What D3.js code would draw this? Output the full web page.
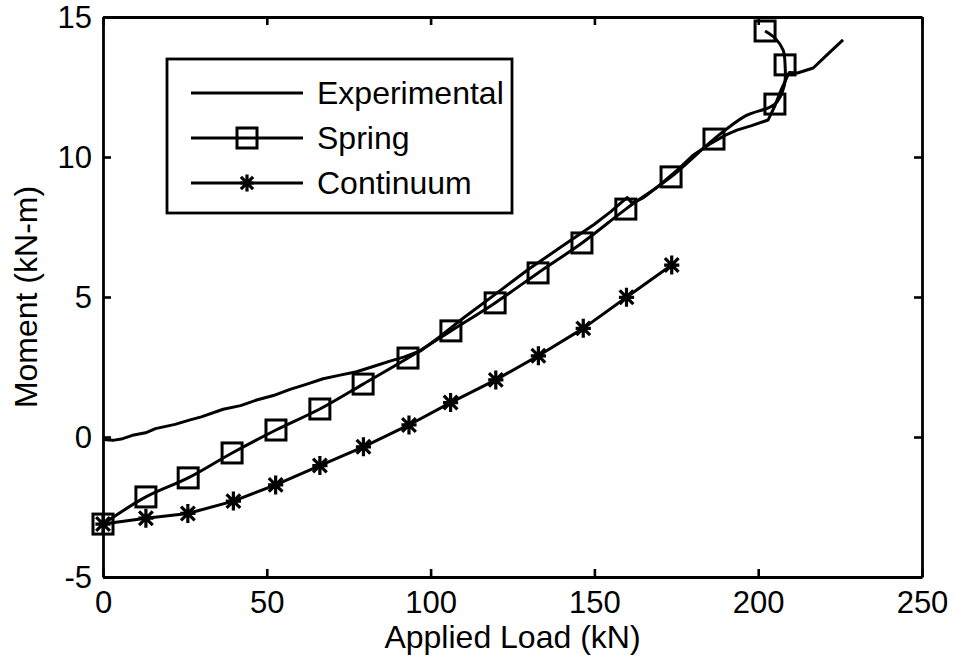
<!DOCTYPE html>
<html>
<head>
<meta charset="utf-8">
<script src="https://cdn.jsdelivr.net/npm/d3@7"></script>
<style>
  html, body { margin: 0; padding: 0; background: #fff; }
  svg { display: block; font-family: Arial, "Liberation Sans", sans-serif; }
</style>
</head>
<body>
<svg id="chart" width="956" height="664"></svg>
<script>
// ---- data ----
const xTicks = [0, 50, 100, 150, 200, 250];
const yTicks = [-5, 0, 5, 10, 15];
const xLabel = "Applied Load (kN)";
const yLabel = "Moment (kN-m)";
const seriesNames = ["Experimental", "Spring", "Continuum"];

const expLoad = [0, 1, 3, 6, 9, 13, 16, 22, 26.6, 30, 36.7, 42, 46.9, 52, 57.1, 62, 67.2, 72, 77.4, 82, 87.6, 92, 97, 103, 110, 120, 130, 140, 150, 155, 158, 160, 161.5, 165, 170, 175, 180, 185, 190, 193.5, 198, 203, 205, 207, 208.8, 209.5, 212, 216.8, 221, 225.9];
const expMoment = [-0.08, -0.1, -0.12, -0.06, 0.06, 0.15, 0.3, 0.45, 0.61, 0.72, 0.99, 1.12, 1.32, 1.48, 1.70, 1.88, 2.08, 2.2, 2.33, 2.5, 2.71, 2.86, 3.08, 3.6, 4.25, 5.12, 6.0, 6.8, 7.6, 8.05, 8.35, 8.55, 8.35, 8.55, 9.0, 9.5, 10.05, 10.45, 10.78, 10.96, 11.12, 11.32, 11.8, 12.4, 12.85, 13.02, 13.0, 13.18, 13.65, 14.18];

const springLoad = [0, 13.1, 26.0, 39.4, 52.8, 66.2, 79.4, 93.1, 106.2, 119.7, 132.8, 146.2, 159.6, 173.4, 186.5, 196.0, 205.1, 208.0, 208.2, 207.6, 205.1, 202.1];
const springMoment = [-3.11, -2.14, -1.46, -0.57, 0.25, 1.0, 1.89, 2.82, 3.79, 4.79, 5.86, 6.93, 8.14, 9.29, 10.64, 11.46, 11.89, 12.57, 13.29, 13.82, 14.25, 14.5];
const springMarkerIdx = [0, 1, 2, 3, 4, 5, 6, 7, 8, 9, 10, 11, 12, 13, 14, 16, 18, 21];

const contLoad = [0, 13.1, 25.9, 39.8, 52.7, 66.2, 79.5, 93.4, 106.1, 119.9, 132.9, 146.6, 159.8, 173.6];
const contMoment = [-3.11, -2.9, -2.73, -2.29, -1.71, -1.02, -0.35, 0.43, 1.23, 2.04, 2.9, 3.88, 4.99, 6.14];

// ---- layout ----
const svg = d3.select("#chart");
const L = 103, R = 922, T = 17, B = 577;
const x = d3.scaleLinear().domain([0, 250]).range([L, R]);
const y = d3.scaleLinear().domain([-5, 15]).range([B, T]);
const FS_TICK = 31;
const FS = 32;
const SW = 3;
const fmt = d => String(d);

// frame + ticks
function styleAxis(g) {
  g.selectAll("path.domain").attr("stroke", "#000").attr("stroke-width", 2.8);
  g.selectAll(".tick line").attr("stroke", "#000").attr("stroke-width", 2.6);
  g.selectAll(".tick text").attr("fill", "#000").style("font-size", FS_TICK + "px")
    .style("font-family", "Arial, 'Liberation Sans', sans-serif");
}
svg.append("g").attr("transform", `translate(0,${B})`)
  .call(d3.axisBottom(x).tickValues(xTicks).tickSize(-8).tickSizeOuter(0).tickPadding(14).tickFormat(fmt))
  .call(styleAxis);
svg.append("g").attr("transform", `translate(0,${T})`)
  .call(d3.axisTop(x).tickValues(xTicks).tickSize(-8).tickSizeOuter(0).tickFormat(""))
  .call(styleAxis);
svg.append("g").attr("transform", `translate(${L},0)`)
  .call(d3.axisLeft(y).tickValues(yTicks).tickSize(-8).tickSizeOuter(0).tickPadding(11).tickFormat(fmt))
  .call(styleAxis)
  .selectAll(".tick text").attr("dy", "0.35em");
svg.append("g").attr("transform", `translate(${R},0)`)
  .call(d3.axisRight(y).tickValues(yTicks).tickSize(-8).tickSizeOuter(0).tickFormat(""))
  .call(styleAxis);

// axis labels
svg.append("text").attr("x", (L + R) / 2).attr("y", 648).attr("text-anchor", "middle")
  .style("font-size", FS + "px").text(xLabel);
svg.append("text").attr("transform", `translate(37,${(T + B) / 2}) rotate(-90)`)
  .attr("text-anchor", "middle").style("font-size", FS + "px").text(yLabel);

// lines
const expData = expLoad.map((v, i) => [v, expMoment[i]]);
const springData = springLoad.map((v, i) => [v, springMoment[i]]);
const contData = contLoad.map((v, i) => [v, contMoment[i]]);

const plot = svg.append("g");
plot.append("path").datum(expData).attr("d", d3.line().x(d => x(d[0])).y(d => y(d[1])))
  .attr("fill", "none").attr("stroke", "#000").attr("stroke-width", SW).attr("stroke-linejoin", "round");
plot.append("path").datum(springData).attr("d", d3.line().x(d => x(d[0])).y(d => y(d[1])).curve(d3.curveCatmullRom))
  .attr("fill", "none").attr("stroke", "#000").attr("stroke-width", SW).attr("stroke-linejoin", "round");
plot.append("path").datum(contData).attr("d", d3.line().x(d => x(d[0])).y(d => y(d[1])))
  .attr("fill", "none").attr("stroke", "#000").attr("stroke-width", SW).attr("stroke-linejoin", "round");

// markers
const SQ = 20;
function square(g, cx, cy) {
  g.append("rect").attr("x", cx - SQ / 2).attr("y", cy - SQ / 2).attr("width", SQ).attr("height", SQ)
    .attr("fill", "none").attr("stroke", "#000").attr("stroke-width", SW);
}
function asterisk(g, cx, cy, r) {
  const d = r * 0.72;
  const p = `M${cx},${cy - r}L${cx},${cy + r}M${cx - r * 0.8},${cy}L${cx + r * 0.8},${cy}` +
            `M${cx - d},${cy - d}L${cx + d},${cy + d}M${cx - d},${cy + d}L${cx + d},${cy - d}`;
  g.append("path").attr("d", p).attr("fill", "none").attr("stroke", "#000").attr("stroke-width", 3.2);
}
springMarkerIdx.forEach(i => square(plot, x(springLoad[i]), y(springMoment[i])));
contData.forEach(d => asterisk(plot, x(d[0]), y(d[1]), 9.5));

// legend
const leg = svg.append("g");
leg.append("rect").attr("x", 167).attr("y", 59).attr("width", 345).attr("height", 154)
  .attr("fill", "#fff").attr("stroke", "#000").attr("stroke-width", 2.8);
const rows = [93, 138, 183];
seriesNames.forEach((name, i) => {
  const ry = rows[i];
  leg.append("line").attr("x1", 191).attr("x2", 303).attr("y1", ry).attr("y2", ry)
    .attr("stroke", "#000").attr("stroke-width", SW);
  if (i === 1) square(leg, 247, ry);
  if (i === 2) asterisk(leg, 247, ry, 8.5);
  leg.append("text").attr("x", 317).attr("y", ry + 11.3).style("font-size", FS + "px").text(name);
});
</script>
</body>
</html>
